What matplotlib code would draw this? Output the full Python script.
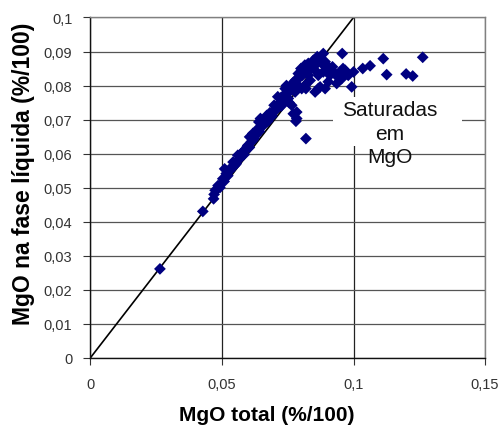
import matplotlib
matplotlib.use('Agg')
import matplotlib.pyplot as plt
from matplotlib.patches import Rectangle
from matplotlib.ticker import FuncFormatter

plt.rcParams['font.family'] = ['Liberation Sans', 'DejaVu Sans']

# MgO total (%/100)
MGO_TOTAL = [
    0.0264, 0.0427, 0.0468, 0.0470, 0.0474, 0.0485, 0.0492, 0.0503, 0.0508, 0.0516,
    0.0510, 0.0522, 0.0530, 0.0537, 0.0548, 0.0542, 0.0554, 0.0560, 0.0567, 0.0572,
    0.0579, 0.0584, 0.0592, 0.0598, 0.0604, 0.0605, 0.0612, 0.0617, 0.0622, 0.0630,
    0.0636, 0.0640, 0.0642, 0.0646, 0.0650, 0.0655, 0.0663, 0.0670, 0.0674, 0.0682,
    0.0690, 0.0698, 0.0700, 0.0712, 0.0710, 0.0716, 0.0724, 0.0726, 0.0740, 0.0735,
    0.0746, 0.0752, 0.0755, 0.0765, 0.0765, 0.0760, 0.0771, 0.0778, 0.0778, 0.0781,
    0.0784, 0.0784, 0.0790, 0.0797, 0.0803, 0.0809, 0.0816, 0.0819, 0.0819, 0.0828,
    0.0828, 0.0835, 0.0840, 0.0847, 0.0854, 0.0855, 0.0860, 0.0866, 0.0866, 0.0873,
    0.0873, 0.0879, 0.0885, 0.0885, 0.0892, 0.0892, 0.0898, 0.0904, 0.0910, 0.0917,
    0.0920, 0.0930, 0.0936, 0.0940, 0.0949, 0.0955, 0.0957, 0.0960, 0.0968, 0.0975,
    0.0980, 0.0993, 0.1000, 0.1035, 0.1063, 0.1113, 0.1126, 0.1200, 0.1225, 0.1263,
    0.0800, 0.0815, 0.0790, 0.0725, 0.0745, 0.0527, 0.0575, 0.0596, 0.0618, 0.0660,
    0.0688, 0.0706, 0.0733, 0.0757, 0.0770, 0.0805, 0.0822, 0.0843, 0.0862,
]

# MgO na fase liquida (%/100)
MGO_LIQ = [
    0.0261, 0.0430, 0.0467, 0.0480, 0.0492, 0.0506, 0.0500, 0.0526, 0.0518, 0.0541,
    0.0555, 0.0535, 0.0550, 0.0560, 0.0565, 0.0575, 0.0570, 0.0595, 0.0585, 0.0600,
    0.0605, 0.0597, 0.0615, 0.0624, 0.0618, 0.0649, 0.0635, 0.0659, 0.0645, 0.0655,
    0.0673, 0.0693, 0.0665, 0.0703, 0.0680, 0.0690, 0.0700, 0.0712, 0.0695, 0.0720,
    0.0710, 0.0742, 0.0725, 0.0767, 0.0735, 0.0747, 0.0752, 0.0740, 0.0791, 0.0760,
    0.0776, 0.0762, 0.0750, 0.0742, 0.0801, 0.0785, 0.0717, 0.0781, 0.0815, 0.0695,
    0.0722, 0.0703, 0.0800, 0.0825, 0.0791, 0.0840, 0.0801, 0.0791, 0.0644, 0.0830,
    0.0865, 0.0815, 0.0850, 0.0874, 0.0781, 0.0860, 0.0840, 0.0830, 0.0791, 0.0879,
    0.0796, 0.0865, 0.0840, 0.0894, 0.0791, 0.0870, 0.0860, 0.0811, 0.0830, 0.0845,
    0.0855, 0.0835, 0.0806, 0.0825, 0.0840, 0.0820, 0.0894, 0.0850, 0.0845, 0.0835,
    0.0830, 0.0796, 0.0840, 0.0850, 0.0858, 0.0879, 0.0832, 0.0834, 0.0828, 0.0883,
    0.0850, 0.0860, 0.0835, 0.0765, 0.0800, 0.0552, 0.0598, 0.0620, 0.0640, 0.0685,
    0.0715, 0.0730, 0.0770, 0.0795, 0.0808, 0.0830, 0.0848, 0.0868, 0.0885,
]

# 1:1 reference line
LINE_X = [0, 0.1]
LINE_Y = [0, 0.1]

X_TICKS = [0, 0.05, 0.1, 0.15]
Y_TICKS = [i / 100 for i in range(11)]

FIG_SIZE = [4.98, 4.27]


def comma_fmt(v, pos):
    s = '{:.2f}'.format(v).rstrip('0').rstrip('.')
    return s.replace('.', ',')


fig = plt.figure(figsize=FIG_SIZE, dpi=100)
ax = fig.add_axes([0.1817, 0.160, 0.7923, 0.7967])

ax.set_xlim(0, 0.15)
ax.set_ylim(0, 0.1)
ax.set_xticks(X_TICKS)
ax.set_yticks(Y_TICKS)
ax.xaxis.set_major_formatter(FuncFormatter(comma_fmt))
ax.yaxis.set_major_formatter(FuncFormatter(comma_fmt))

ax.set_axisbelow(True)
ax.grid(True, axis='y', color='#555555', linewidth=0.9)
ax.grid(True, axis='x', color='#222222', linewidth=0.9)

for side in ['top', 'right']:
    ax.spines[side].set_color('#808080')
    ax.spines[side].set_linewidth(1.0)
for side in ['left', 'bottom']:
    ax.spines[side].set_color('#111111')
    ax.spines[side].set_linewidth(1.0)

ax.tick_params(axis='both', direction='out', length=5, width=0.8,
               color='#333333', labelsize=10.5, labelcolor='#333333')
ax.tick_params(axis='y', pad=8)
ax.tick_params(axis='x', pad=9)

# white box behind the annotation
ax.add_patch(Rectangle((0.0922, 0.0623), 0.0491, 0.0144,
                       facecolor='white', edgecolor='none', zorder=1))

ax.plot(LINE_X, LINE_Y, color='black', linewidth=1.2, zorder=2)
ax.scatter(MGO_TOTAL, MGO_LIQ, marker='D', s=36, color='#000080',
           edgecolors='none', zorder=3)

ax.text(0.1139, 0.0660, 'Saturadas\nem\nMgO', fontsize=15, color='#111111',
        ha='center', va='center', linespacing=1.3, zorder=4)

ax.set_xlabel('MgO total (%/100)', fontsize=15, fontweight='bold')
ax.set_ylabel('MgO na fase líquida (%/100)', fontsize=16.5, fontweight='bold')
ax.xaxis.set_label_coords(0.447, -0.140)
ax.yaxis.set_label_coords(-0.141, 0.543)

plt.savefig('out.png', dpi=100)
